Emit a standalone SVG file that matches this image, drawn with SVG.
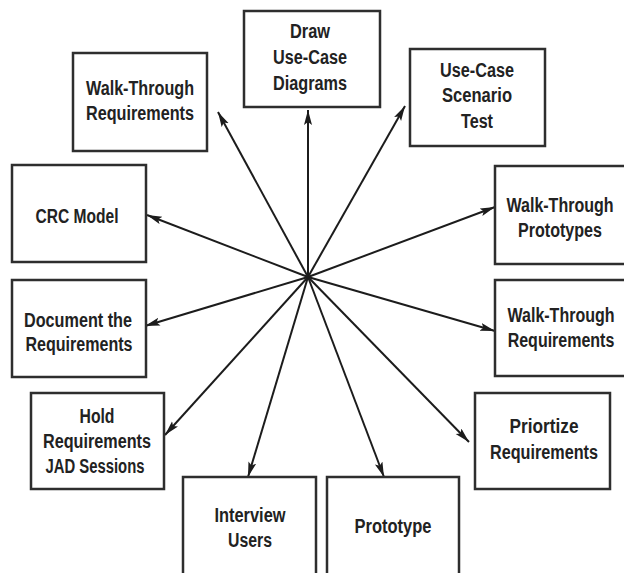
<svg xmlns="http://www.w3.org/2000/svg" width="624" height="573" viewBox="0 0 624 573">
  <style>
    .box { fill: #ffffff; stroke: #2e2e2e; stroke-width: 2.5; }
    .lbl { font-family: "Liberation Sans", Arial, sans-serif; font-weight: bold; font-size: 20px; fill: #222222; text-anchor: middle; }
    .link { stroke: #1c1c1c; stroke-width: 2; fill: none; marker-end: url(#arrow); }
  </style>
  <defs>
    <marker id="arrow" markerUnits="userSpaceOnUse" markerWidth="16" markerHeight="10" refX="15" refY="4" orient="auto">
      <path d="M0,0 L15,4 L0,8 L3,4 Z" fill="#1c1c1c"/>
    </marker>
  </defs>
  <rect width="624" height="573" fill="#ffffff"/>

  <g id="connectors">
    <line class="link" x1="308" y1="277" x2="308" y2="110"/>
    <line class="link" x1="308" y1="277" x2="405" y2="106"/>
    <line class="link" x1="308" y1="277" x2="495" y2="207"/>
    <line class="link" x1="308" y1="277" x2="495" y2="331"/>
    <line class="link" x1="308" y1="277" x2="469" y2="442"/>
    <line class="link" x1="308" y1="277" x2="384" y2="477"/>
    <line class="link" x1="308" y1="277" x2="248" y2="477"/>
    <line class="link" x1="308" y1="277" x2="165" y2="435"/>
    <line class="link" x1="308" y1="277" x2="145" y2="326"/>
    <line class="link" x1="308" y1="277" x2="147" y2="215"/>
    <line class="link" x1="308" y1="277" x2="218" y2="112"/>
  </g>

  <g id="draw-use-case-diagrams">
    <rect class="box" x="244" y="11" width="136" height="96"/>
    <text class="lbl" x="310" y="38" textLength="40" lengthAdjust="spacingAndGlyphs">Draw</text>
    <text class="lbl" x="310" y="64" textLength="74" lengthAdjust="spacingAndGlyphs">Use-Case</text>
    <text class="lbl" x="310" y="90" textLength="74" lengthAdjust="spacingAndGlyphs">Diagrams</text>
  </g>

  <g id="use-case-scenario-test">
    <rect class="box" x="410" y="49" width="135" height="97"/>
    <text class="lbl" x="477" y="77" textLength="74" lengthAdjust="spacingAndGlyphs">Use-Case</text>
    <text class="lbl" x="477" y="102" textLength="70" lengthAdjust="spacingAndGlyphs">Scenario</text>
    <text class="lbl" x="477" y="128" textLength="32" lengthAdjust="spacingAndGlyphs">Test</text>
  </g>

  <!-- right-hand boxes run past the canvas edge; labels are narrowed with a scale -->
  <g id="walk-through-prototypes">
    <rect class="box" x="495" y="166" width="140" height="98"/>
    <text class="lbl" transform="translate(560 212) scale(0.8 1)">Walk-Through</text>
    <text class="lbl" x="560" y="237" textLength="84" lengthAdjust="spacingAndGlyphs">Prototypes</text>
  </g>

  <g id="walk-through-requirements-right">
    <rect class="box" x="495" y="280" width="140" height="96"/>
    <text class="lbl" transform="translate(561 322) scale(0.8 1)">Walk-Through</text>
    <text class="lbl" transform="translate(561 347) scale(0.8 1)">Requirements</text>
  </g>

  <g id="priortize-requirements">
    <rect class="box" x="475" y="393" width="135" height="96"/>
    <text class="lbl" x="544" y="433" textLength="69" lengthAdjust="spacingAndGlyphs">Priortize</text>
    <text class="lbl" x="544" y="459" textLength="108" lengthAdjust="spacingAndGlyphs">Requirements</text>
  </g>

  <g id="prototype">
    <rect class="box" x="327" y="477" width="132" height="110"/>
    <text class="lbl" x="393" y="533" textLength="77" lengthAdjust="spacingAndGlyphs">Prototype</text>
  </g>

  <g id="interview-users">
    <rect class="box" x="183" y="477" width="133" height="110"/>
    <text class="lbl" x="250" y="522" textLength="71" lengthAdjust="spacingAndGlyphs">Interview</text>
    <text class="lbl" x="250" y="547" textLength="44" lengthAdjust="spacingAndGlyphs">Users</text>
  </g>

  <g id="hold-requirements-jad-sessions">
    <rect class="box" x="31" y="393" width="133" height="96"/>
    <text class="lbl" x="97" y="423" textLength="35" lengthAdjust="spacingAndGlyphs">Hold</text>
    <text class="lbl" x="97" y="448" textLength="108" lengthAdjust="spacingAndGlyphs">Requirements</text>
    <text class="lbl" x="95" y="473" textLength="99" lengthAdjust="spacingAndGlyphs">JAD Sessions</text>
  </g>

  <g id="document-the-requirements">
    <rect class="box" x="12" y="280" width="134" height="97"/>
    <text class="lbl" x="78" y="327" textLength="108" lengthAdjust="spacingAndGlyphs">Document the</text>
    <text class="lbl" x="79" y="351" textLength="107" lengthAdjust="spacingAndGlyphs">Requirements</text>
  </g>

  <g id="crc-model">
    <rect class="box" x="12" y="165" width="134" height="97"/>
    <text class="lbl" x="77" y="223" textLength="83" lengthAdjust="spacingAndGlyphs">CRC Model</text>
  </g>

  <g id="walk-through-requirements-left">
    <rect class="box" x="73" y="53" width="134" height="98"/>
    <text class="lbl" x="140" y="95" textLength="108" lengthAdjust="spacingAndGlyphs">Walk-Through</text>
    <text class="lbl" x="140" y="120" textLength="108" lengthAdjust="spacingAndGlyphs">Requirements</text>
  </g>
</svg>
